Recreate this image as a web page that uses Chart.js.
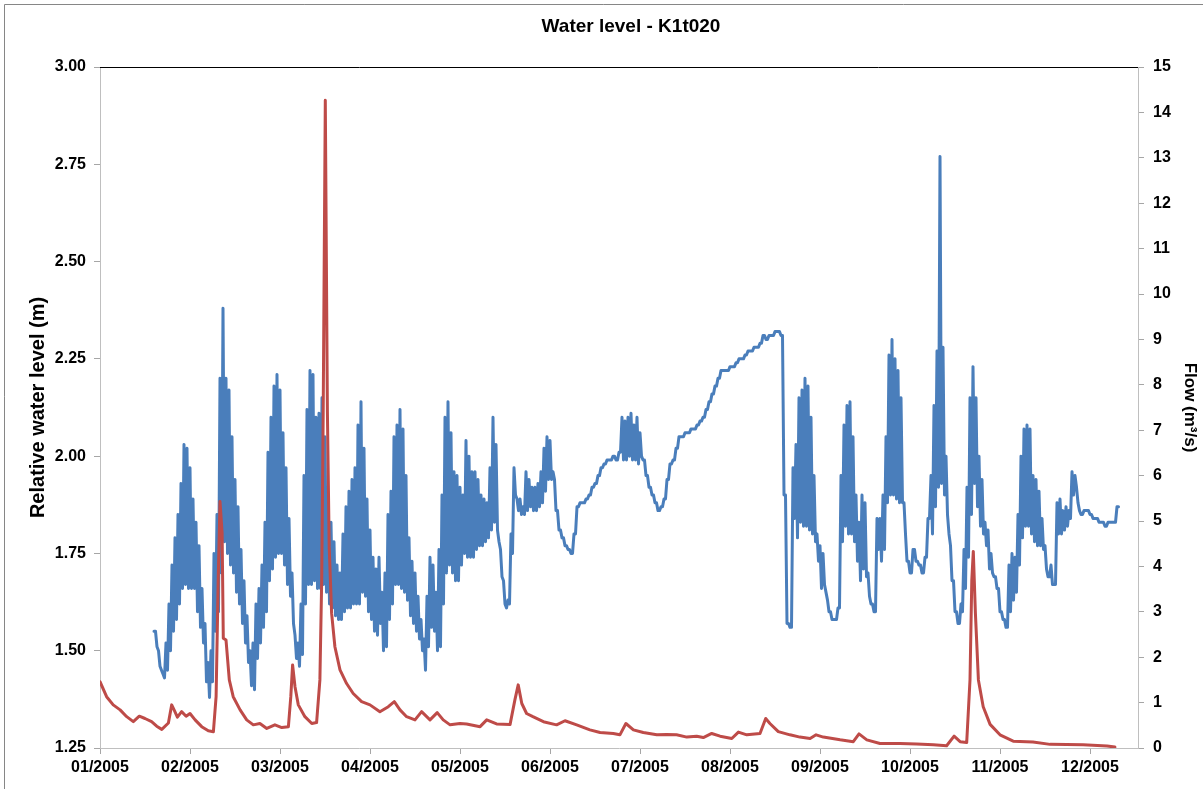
<!DOCTYPE html>
<html>
<head>
<meta charset="utf-8">
<title>Water level - K1t020</title>
<script src="https://cdn.jsdelivr.net/npm/chart.js@4.4.1/dist/chart.umd.min.js"></script>
<style>
  html, body { margin: 0; padding: 0; background: #fff; }
  #wrap { position: relative; width: 1203px; height: 789px; }
</style>
</head>
<body>
<div id="wrap"><canvas id="levelChart" width="1203" height="789"></canvas></div>
<script>
// x unit: one "day", 30 per month label (Excel spaces the months evenly)
const chartTitle = "Water level - K1t020";
const monthLabels = ["01/2005", "02/2005", "03/2005", "04/2005", "05/2005", "06/2005",
                     "07/2005", "08/2005", "09/2005", "10/2005", "11/2005", "12/2005"];
const DAYS_PER_MONTH = 30;
const levelTicks = [1.25, 1.50, 1.75, 2.00, 2.25, 2.50, 2.75, 3.00];
const flowTicks = [0, 1, 2, 3, 4, 5, 6, 7, 8, 9, 10, 11, 12, 13, 14, 15];

// relative water level (m), one high / low pair per day from day 18
const levelStart = 18;
const tideHigh = [
  1.55,1.51,1.46,1.44,1.52,1.62,1.72,1.79,1.85,1.93,
  2.03,2.02,1.97,1.89,1.83,1.77,1.66,1.57,1.47,1.50,
  1.75,1.85,2.20,2.38,2.20,2.17,2.05,1.94,1.87,1.76,
  1.68,1.59,1.50,1.52,1.62,1.66,1.72,1.83,2.01,2.10,
  2.18,2.21,2.17,2.06,1.97,1.84,1.70,1.54,1.52,1.62,
  1.95,2.12,2.22,2.21,2.10,2.11,2.15,2.05,1.90,1.83,
  1.78,1.72,1.70,1.80,1.87,1.91,1.94,1.97,2.08,2.14,
  2.02,1.89,1.81,1.74,1.71,1.74,1.65,1.70,1.85,1.91,
  2.05,2.08,2.12,2.07,1.95,1.79,1.73,1.70,1.64,1.58,
  1.53,1.64,1.74,1.72,1.65,1.76,1.90,2.10,2.14,2.06,
  1.96,1.95,1.92,1.90,2.04,2.00,1.96,1.96,1.94,1.90,
  1.89,1.88,1.97,2.10,2.03,1.78,1.69,1.62,1.63,1.80,
  1.97,1.89,1.89,1.87,1.96,1.94,1.92,1.92,1.93,1.96,
  2.02,2.05,2.04,1.96,1.86,1.81,1.79,1.77,1.76,1.75,
  1.80,1.87,1.88,1.88,1.89,1.90,1.92,1.93,1.95,1.97,
  1.98,1.99,1.99,2.00,1.99,2.01,2.10,2.09,2.10,2.11,
  2.08,2.10,2.06,1.99,1.95,1.92,1.90,1.88,1.86,1.87,
  1.89,1.94,1.98,1.99,2.02,2.05,2.05,2.06,2.06,2.07,
  2.07,2.08,2.09,2.10,2.12,2.14,2.16,2.18,2.20,2.22,
  2.22,2.22,2.23,2.23,2.24,2.25,2.25,2.26,2.27,2.27,
  2.28,2.28,2.29,2.31,2.30,2.31,2.31,2.32,2.32,2.31,
  1.90,1.57,1.56,1.97,2.03,2.15,2.17,2.20,2.18,2.10,
  1.95,1.80,1.77,1.75,1.65,1.60,1.58,1.58,1.61,1.95,
  2.08,2.13,2.14,2.05,1.90,1.83,1.90,1.88,1.70,1.62,
  1.60,1.84,1.84,1.90,2.05,2.26,2.30,2.25,2.22,2.15,
  1.88,1.73,1.70,1.76,1.73,1.72,1.70,1.74,1.84,1.95,
  2.13,2.27,2.77,2.28,2.00,1.80,1.68,1.60,1.57,1.62,
  1.76,1.92,2.15,2.23,2.15,2.00,1.94,1.83,1.81,1.75,
  1.69,1.66,1.60,1.58,1.56,1.72,1.75,1.74,1.85,2.00,
  2.07,2.08,2.07,1.95,1.94,1.91,1.84,1.77,1.69,1.72,
  1.67,1.88,1.89,1.86,1.87,1.86,1.96,1.95,1.88,1.85,
  1.86,1.86,1.85,1.84,1.84,1.83,1.83,1.82,1.83,1.83,
  1.83,1.87
];
const tideLow = [
  1.55,1.50,1.45,1.43,1.45,1.50,1.55,1.58,1.62,1.66,
  1.67,1.66,1.66,1.66,1.60,1.56,1.52,1.42,1.38,1.42,
  1.55,1.60,1.70,1.78,1.75,1.72,1.70,1.65,1.62,1.57,
  1.52,1.47,1.41,1.40,1.48,1.52,1.56,1.60,1.68,1.71,
  1.74,1.75,1.75,1.72,1.67,1.64,1.57,1.48,1.46,1.49,
  1.62,1.67,1.67,1.68,1.66,1.66,1.67,1.65,1.62,1.61,
  1.59,1.58,1.58,1.60,1.61,1.61,1.62,1.62,1.62,1.65,
  1.64,1.60,1.58,1.55,1.54,1.57,1.50,1.51,1.58,1.62,
  1.67,1.67,1.66,1.65,1.63,1.59,1.57,1.55,1.53,1.50,
  1.45,1.51,1.56,1.55,1.50,1.51,1.62,1.70,1.72,1.70,
  1.68,1.68,1.72,1.75,1.74,1.74,1.74,1.76,1.77,1.77,
  1.78,1.79,1.81,1.83,1.81,1.76,1.68,1.61,1.62,1.75,
  1.90,1.86,1.85,1.85,1.86,1.87,1.86,1.86,1.87,1.88,
  1.91,1.94,1.94,1.94,1.86,1.81,1.79,1.77,1.76,1.75,
  1.80,1.87,1.88,1.88,1.89,1.90,1.92,1.93,1.95,1.97,
  1.98,1.99,1.99,2.00,1.99,2.01,1.99,1.99,2.00,1.99,
  1.99,1.98,2.00,1.99,1.95,1.92,1.90,1.88,1.86,1.87,
  1.89,1.94,1.98,1.99,2.02,2.05,2.05,2.06,2.06,2.07,
  2.07,2.08,2.09,2.10,2.12,2.14,2.16,2.18,2.20,2.22,
  2.22,2.22,2.23,2.23,2.24,2.25,2.25,2.26,2.27,2.27,
  2.28,2.28,2.29,2.31,2.30,2.31,2.31,2.32,2.32,2.31,
  1.90,1.57,1.56,1.84,1.79,1.83,1.82,1.82,1.81,1.80,
  1.78,1.73,1.66,1.67,1.63,1.60,1.58,1.58,1.61,1.78,
  1.82,1.80,1.80,1.78,1.73,1.68,1.71,1.69,1.64,1.62,
  1.60,1.76,1.73,1.76,1.88,1.90,1.90,1.89,1.88,1.88,
  1.80,1.73,1.70,1.76,1.73,1.72,1.70,1.74,1.84,1.80,
  1.87,1.92,1.93,1.90,1.85,1.77,1.68,1.60,1.57,1.60,
  1.66,1.74,1.85,1.93,1.87,1.82,1.80,1.77,1.71,1.70,
  1.69,1.66,1.60,1.58,1.56,1.60,1.63,1.65,1.72,1.79,
  1.82,1.82,1.80,1.78,1.77,1.77,1.76,1.71,1.69,1.67,
  1.67,1.80,1.80,1.81,1.82,1.84,1.90,1.92,1.86,1.85,
  1.86,1.86,1.85,1.84,1.84,1.83,1.83,1.82,1.83,1.83,
  1.83,1.87
];

// flow (m3/s)
const flowDay = [
  0, 2.2, 4.4, 6.7, 8.9, 11.1, 13.1, 15, 17.2, 18.9, 20.6, 22.8, 23.9, 24.7, 25.8, 27.2, 28.7, 30, 31.7, 33.9,
  36.1, 37.8, 38.7, 39.4, 40, 40.7, 41.1, 42, 43.1, 44.4, 46.7, 48.9, 51.1, 53.3, 55.6, 58.3, 60.6, 62.8, 63.6, 64.2,
  65, 66.1, 68.3, 70.6, 72.2, 73.3, 73.9, 74.4, 75.1, 75.8, 76.4, 77.2, 78.3, 80, 82.2, 84.4, 87.2, 90, 93.3, 96.1,
  98.1, 100, 102.2, 105, 107.2, 110, 112.4, 114.4, 116.7, 120, 122.2, 126.7, 128.9, 132.2, 136.7, 138.3, 139.4, 140.6, 142.2, 144.3,
  147.8, 152.2, 155, 158.9, 163.3, 166.7, 171.1, 173.3, 175.3, 177.8, 181.1, 185.6, 188.9, 192.2, 195.6, 198.9, 201.1, 203.9, 206.7, 210.6,
  212.8, 215.6, 220, 221.9, 223.3, 226.1, 230, 233.3, 236.7, 238.7, 241.1, 246.7, 251.1, 253, 255.6, 260, 266.7, 272.2, 277.8, 282.2,
  284.7, 286.7, 288.9, 290, 290.6, 291.1, 291.8, 292.8, 294.4, 296.7, 300, 304.4, 311, 316.7, 327.7, 335.7, 338.3
];
const flowRate = [
  1.46, 1.13, 0.95, 0.84, 0.69, 0.58, 0.70, 0.65, 0.58, 0.48, 0.41, 0.55, 0.95, 0.84, 0.68, 0.80, 0.70, 0.76, 0.62, 0.47,
  0.38, 0.36, 1.13, 3.70, 5.43, 4.74, 2.42, 2.38, 1.50, 1.13, 0.84, 0.62, 0.51, 0.54, 0.43, 0.51, 0.45, 0.47, 1.13, 1.83,
  1.35, 0.95, 0.69, 0.54, 0.56, 1.50, 3.70, 7.38, 14.27, 7.40, 4.43, 2.97, 2.23, 1.72, 1.42, 1.20, 1.02, 0.95, 0.80, 0.91,
  1.02, 0.84, 0.69, 0.62, 0.80, 0.62, 0.78, 0.62, 0.51, 0.54, 0.53, 0.47, 0.62, 0.53, 0.52, 1.06, 1.39, 0.98, 0.76, 0.69,
  0.58, 0.51, 0.60, 0.51, 0.40, 0.34, 0.32, 0.29, 0.54, 0.40, 0.34, 0.29, 0.30, 0.29, 0.24, 0.26, 0.23, 0.32, 0.26, 0.21,
  0.35, 0.29, 0.32, 0.65, 0.54, 0.36, 0.29, 0.24, 0.21, 0.29, 0.24, 0.18, 0.14, 0.31, 0.18, 0.10, 0.10, 0.09, 0.07, 0.05,
  0.26, 0.14, 0.12, 1.50, 3.70, 4.33, 2.97, 1.50, 0.91, 0.52, 0.29, 0.15, 0.13, 0.08, 0.07, 0.045, 0.02
];

const FONT = "'Liberation Sans', Arial, sans-serif";
const boldFont = (size) => ({ family: FONT, size: size, weight: "bold" });

// high tide at the day, low tide half a day later
const levelPoints = [];
tideHigh.forEach((h, i) => {
  levelPoints.push({ x: levelStart + i, y: h });
  levelPoints.push({ x: levelStart + i + 0.5, y: tideLow[i] });
});
const flowPoints = flowDay.map((d, i) => ({ x: d, y: flowRate[i] }));

const framePlugin = {
  id: "frame",
  beforeDraw(chart) {
    const ctx = chart.ctx;
    ctx.save();
    ctx.fillStyle = "#fff";
    ctx.fillRect(0, 0, chart.width, chart.height);
    ctx.strokeStyle = "#868686";
    ctx.lineWidth = 1;
    ctx.beginPath();
    ctx.moveTo(4.5, chart.height);
    ctx.lineTo(4.5, 4.5);
    ctx.lineTo(chart.width, 4.5);
    ctx.stroke();
    ctx.restore();
  },
  afterDraw(chart) {
    const { ctx, chartArea } = chart;
    ctx.save();
    ctx.strokeStyle = "#000";
    ctx.lineWidth = 1;
    ctx.beginPath();
    ctx.moveTo(chartArea.left, chartArea.top + 0.5);
    ctx.lineTo(chartArea.right, chartArea.top + 0.5);
    ctx.stroke();
    ctx.font = "bold 19px " + FONT;
    ctx.fillStyle = "#000";
    ctx.textAlign = "center";
    ctx.textBaseline = "middle";
    ctx.fillText(chartTitle, 631, 27);
    ctx.restore();
  }
};

new Chart(document.getElementById("levelChart"), {
  type: "line",
  data: {
    datasets: [
      {
        label: "Flow",
        data: flowPoints,
        yAxisID: "y1",
        borderColor: "#be4b48",
        borderWidth: 3,
        pointRadius: 0,
        tension: 0,
        borderJoinStyle: "round",
        borderCapStyle: "round",
        order: 1
      },
      {
        label: "Relative water level",
        data: levelPoints,
        yAxisID: "y",
        borderColor: "#4a7ebb",
        borderWidth: 3,
        pointRadius: 0,
        tension: 0,
        borderJoinStyle: "round",
        borderCapStyle: "round",
        order: 2
      }
    ]
  },
  options: {
    responsive: false,
    animation: false,
    devicePixelRatio: 1,
    layout: { padding: { top: 67, left: 0, right: 0, bottom: 0 } },
    plugins: {
      legend: { display: false },
      title: { display: false },
      tooltip: { enabled: false }
    },
    scales: {
      x: {
        type: "linear",
        min: 0,
        max: 346,
        afterBuildTicks: (scale) => {
          scale.ticks = monthLabels.map((_, i) => ({ value: i * DAYS_PER_MONTH }));
        },
        afterFit: (scale) => { scale.height = 41; },
        ticks: {
          callback: (v) => monthLabels[Math.round(v / DAYS_PER_MONTH)],
          font: boldFont(16),
          color: "#000",
          padding: 4,
          maxRotation: 0,
          autoSkip: false
        },
        grid: { drawOnChartArea: false, tickLength: 6, color: "#a6a6a6" },
        border: { color: "#bfbfbf" }
      },
      y: {
        position: "left",
        min: 1.25,
        max: 3.0,
        afterBuildTicks: (scale) => { scale.ticks = levelTicks.map((v) => ({ value: v })); },
        afterFit: (scale) => { scale.width = 100; },
        ticks: {
          callback: (v) => v.toFixed(2),
          font: boldFont(16),
          color: "#000",
          padding: 8
        },
        grid: { drawOnChartArea: false, tickLength: 6, color: "#a6a6a6" },
        border: { color: "#bfbfbf" },
        title: {
          display: true,
          text: "Relative water level (m)",
          font: boldFont(20),
          color: "#000",
          padding: { top: 26, bottom: 0 }
        }
      },
      y1: {
        position: "right",
        min: 0,
        max: 15,
        afterBuildTicks: (scale) => { scale.ticks = flowTicks.map((v) => ({ value: v })); },
        afterFit: (scale) => { scale.width = 65; },
        ticks: {
          font: boldFont(16),
          color: "#000",
          padding: 9
        },
        grid: { drawOnChartArea: false, tickLength: 6, color: "#a6a6a6" },
        border: { color: "#bfbfbf" },
        title: {
          display: true,
          text: "Flow (m³/s)",
          font: boldFont(17),
          color: "#000",
          padding: { top: 3, bottom: 0 }
        }
      }
    }
  },
  plugins: [framePlugin]
});
</script>
</body>
</html>
